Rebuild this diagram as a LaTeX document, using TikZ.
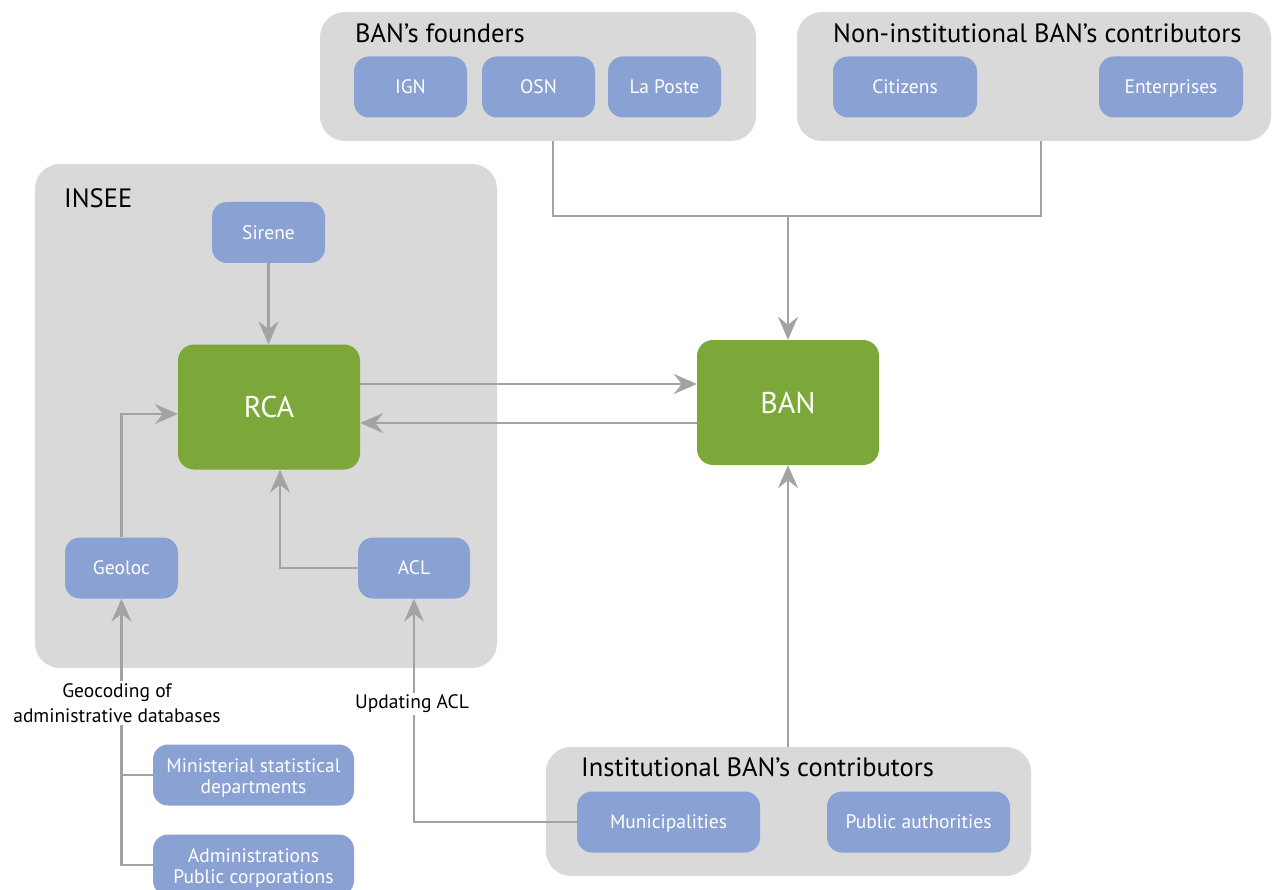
\documentclass[tikz,border=0pt]{standalone}
\usepackage{fontspec}
\setmainfont{PT Sans}
\usetikzlibrary{arrows.meta,calc}
\definecolor{grp}{HTML}{D9D9D9}
\definecolor{bluebox}{HTML}{8AA1D3}
\definecolor{greenbox}{HTML}{7CA83A}
\definecolor{conn}{HTML}{A3A3A3}
\tikzset{
  group/.style={fill=grp, draw=none, rounded corners=25pt, inner sep=0pt},
  bbox/.style={fill=bluebox, draw=none, rounded corners=15pt, text=white, align=center,
    font=\fontsize{19.5}{21}\selectfont, inner sep=0pt, text height=18pt, text depth=4.4pt},
  twoline/.style={text height=41pt, text depth=4.4pt},
  gbox/.style={fill=greenbox, draw=none, rounded corners=16pt, text=white,
    font=\fontsize{30}{32}\selectfont, minimum width=182pt, minimum height=125pt, inner sep=0pt},
  grouptitle/.style={anchor=base west, inner sep=0pt, font=\fontsize{26.5}{30}\selectfont},
  lbl/.style={fill=white, align=center, inner sep=2pt, font=\fontsize{19.5}{25}\selectfont},
  cline/.style={draw=conn, line width=2.2pt},
  arr/.style={cline, -{Stealth[length=23pt, width=20pt, inset=8pt]}}
}
\begin{document}
\begin{tikzpicture}[x=1pt,y=-1pt]
\useasboundingbox[fill=white] (0,0) rectangle (1273,890);

% groups
\node[group, minimum width=436pt, minimum height=129pt] (founders) at (538,76.5) {};
\node[group, minimum width=474pt, minimum height=129pt] (noninst) at (1034,76.5) {};
\node[group, minimum width=462pt, minimum height=504pt] (insee) at (266,416) {};
\node[group, minimum width=485pt, minimum height=129pt] (inst) at (788.5,811.5) {};

\node[grouptitle] (tfound) at (355,43) {BAN’s founders};
\node[grouptitle] (tnon) at (833,43) {Non-institutional BAN’s contributors};
\node[grouptitle] (tinsee) at (64,208) {INSEE};
\node[grouptitle] (tinst) at (581,776) {Institutional BAN’s contributors};

% blue boxes
\node[bbox, minimum width=113pt, minimum height=61pt] (ign) at (410.5,87) {IGN};
\node[bbox, minimum width=113pt, minimum height=61pt] (osn) at (538.5,87) {OSN};
\node[bbox, minimum width=113pt, minimum height=61pt] (poste) at (664.5,87) {La Poste};
\node[bbox, minimum width=144pt, minimum height=61pt] (cit) at (905,87) {Citizens};
\node[bbox, minimum width=144pt, minimum height=61pt] (ent) at (1171,87) {Enterprises};
\node[bbox, minimum width=113pt, minimum height=61pt] (sirene) at (268.5,232.5) {Sirene};
\node[bbox, minimum width=113pt, minimum height=61pt] (geoloc) at (121.5,568) {Geoloc};
\node[bbox, minimum width=112pt, minimum height=61pt] (acl) at (414,568) {ACL};
\node[bbox, twoline, minimum width=201pt, minimum height=61pt] (mini) at (253.5,775) {Ministerial statistical\\departments};
\node[bbox, twoline, minimum width=201pt, minimum height=61pt] (adm) at (253.5,865) {Administrations\\Public corporations};
\node[bbox, minimum width=183pt, minimum height=61pt] (mun) at (668.5,822) {Municipalities};
\node[bbox, minimum width=183pt, minimum height=61pt] (pub) at (918.5,822) {Public authorities};

% green boxes
\node[gbox] (rca) at (269,407) {RCA};
\node[gbox] (ban) at (788,402.5) {BAN};

% connectors
\coordinate (j) at (788,216);
\draw[cline] (founders.south -| 553,0) |- (j) -| (noninst.south -| 1041,0);
\draw[arr] (j) -- (ban.north);
\draw[arr] (sirene.south) -- (sirene.south |- rca.north);
\draw[arr] ($(rca.east)+(0,-23)$) -- ($(ban.west)+(0,-18.5)$);
\draw[arr] ($(ban.west)+(0,20.5)$) -- ($(rca.east)+(0,16)$);
\draw[arr] (geoloc.north) |- ($(rca.west)+(0,7)$);
\draw[arr] (acl.west) -| ($(rca.south)+(11,0)$);
\draw[arr] (inst.north -| ban.south) -- (ban.south);
\draw[arr] (adm.west) -| (geoloc.south);
\draw[cline] (mini.west) -- (mini.west -| geoloc.south);
\draw[arr] (mun.west) -| (acl.south);

% labels
\node[lbl] (lgeo) at (117,703) {Geocoding of\\administrative databases};
\node[lbl] (lacl) at (412,704) {Updating ACL};
\end{tikzpicture}
\end{document}
